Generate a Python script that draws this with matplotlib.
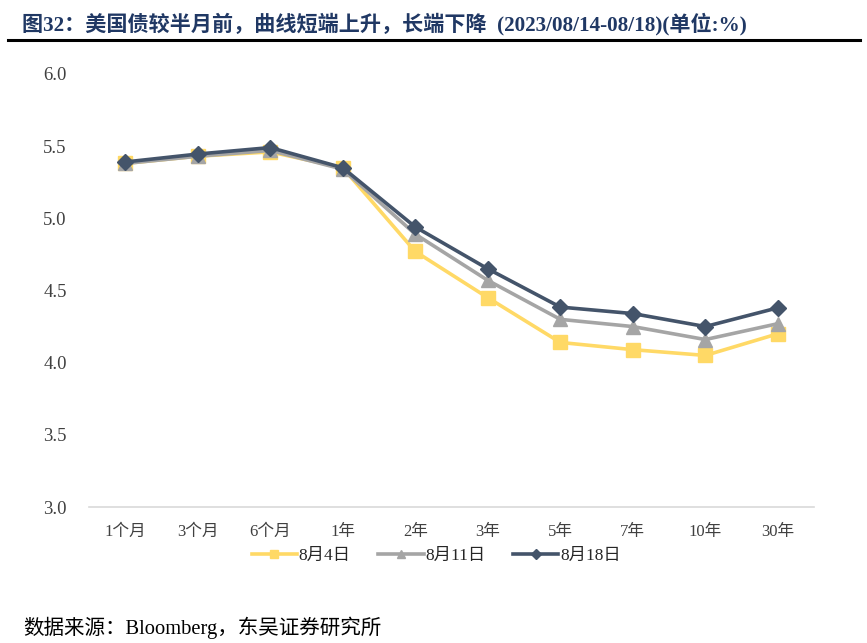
import matplotlib
matplotlib.use('Agg')
import matplotlib.pyplot as plt
from matplotlib.lines import Line2D

plt.rcParams['font.family'] = ['Liberation Serif', 'Noto Sans CJK SC']

# Data
tenors = ['1个月', '3个月', '6个月', '1年', '2年', '3年', '5年', '7年', '10年', '30年']
aug4 = [5.38, 5.43, 5.46, 5.35, 4.77, 4.45, 4.14, 4.09, 4.05, 4.20]
aug11 = [5.38, 5.43, 5.47, 5.34, 4.89, 4.57, 4.30, 4.25, 4.16, 4.27]
aug18 = [5.39, 5.445, 5.49, 5.35, 4.94, 4.65, 4.385, 4.34, 4.25, 4.38]
series_names = ['8月4日', '8月11日', '8月18日']

c_yellow = '#FFD966'
c_gray = '#A5A5A5'
c_dark = '#44546A'

fig = plt.figure(figsize=(8.67, 6.43), dpi=100)
ax = fig.add_axes([0.1026, 0.2115, 0.8364, 0.6735])

x = list(range(len(tenors)))
ax.plot(x, aug4, color=c_yellow, lw=2.6, marker='s', ms=10, label=series_names[0])
ax.plot(x, aug11, color=c_gray, lw=2.6, marker='^', ms=10, label=series_names[1])
ax.plot(x, aug18, color=c_dark, lw=2.6, marker='D', ms=8, label=series_names[2])

ax.set_ylim(3.0, 6.0)
ax.set_yticks([3.0, 3.5, 4.0, 4.5, 5.0, 5.5, 6.0])
ax.set_yticklabels([f'{v:.1f}' for v in [3.0, 3.5, 4.0, 4.5, 5.0, 5.5, 6.0]])
ax.set_xlim(-0.5, len(tenors) - 0.5)
ax.set_xticks(x)
ax.set_xticklabels(tenors)
ax.tick_params(axis='both', length=0, colors='#404040')
ax.tick_params(axis='x', pad=12, labelsize=12)
ax.tick_params(axis='y', pad=16, labelsize=13.5)
for s in ['top', 'right', 'left']:
    ax.spines[s].set_visible(False)
ax.spines['bottom'].set_color('#D9D9D9')
ax.spines['bottom'].set_linewidth(1.2)

leg = ax.legend(loc='center', bbox_to_anchor=(0.479, -0.112), ncol=3,
                frameon=False, fontsize=12.5, handlelength=2.6, markerscale=0.6,
                columnspacing=1.6, handletextpad=0.1)
for t in leg.get_texts():
    t.set_color('#262626')

fig.text(0.025, 0.962, '图32：美国债较半月前，曲线短端上升，长端下降  (2023/08/14-08/18)(单位:%)',
         fontsize=15.2, fontweight='bold', color='#203864', va='center', ha='left')
fig.add_artist(Line2D([0.009, 0.992], [0.938, 0.938], color='black', lw=2.2))
fig.text(0.027, 0.023, '数据来源：Bloomberg，东吴证券研究所', fontsize=14.8,
         color='black', va='center', ha='left')

fig.savefig('out.png', dpi=100)
